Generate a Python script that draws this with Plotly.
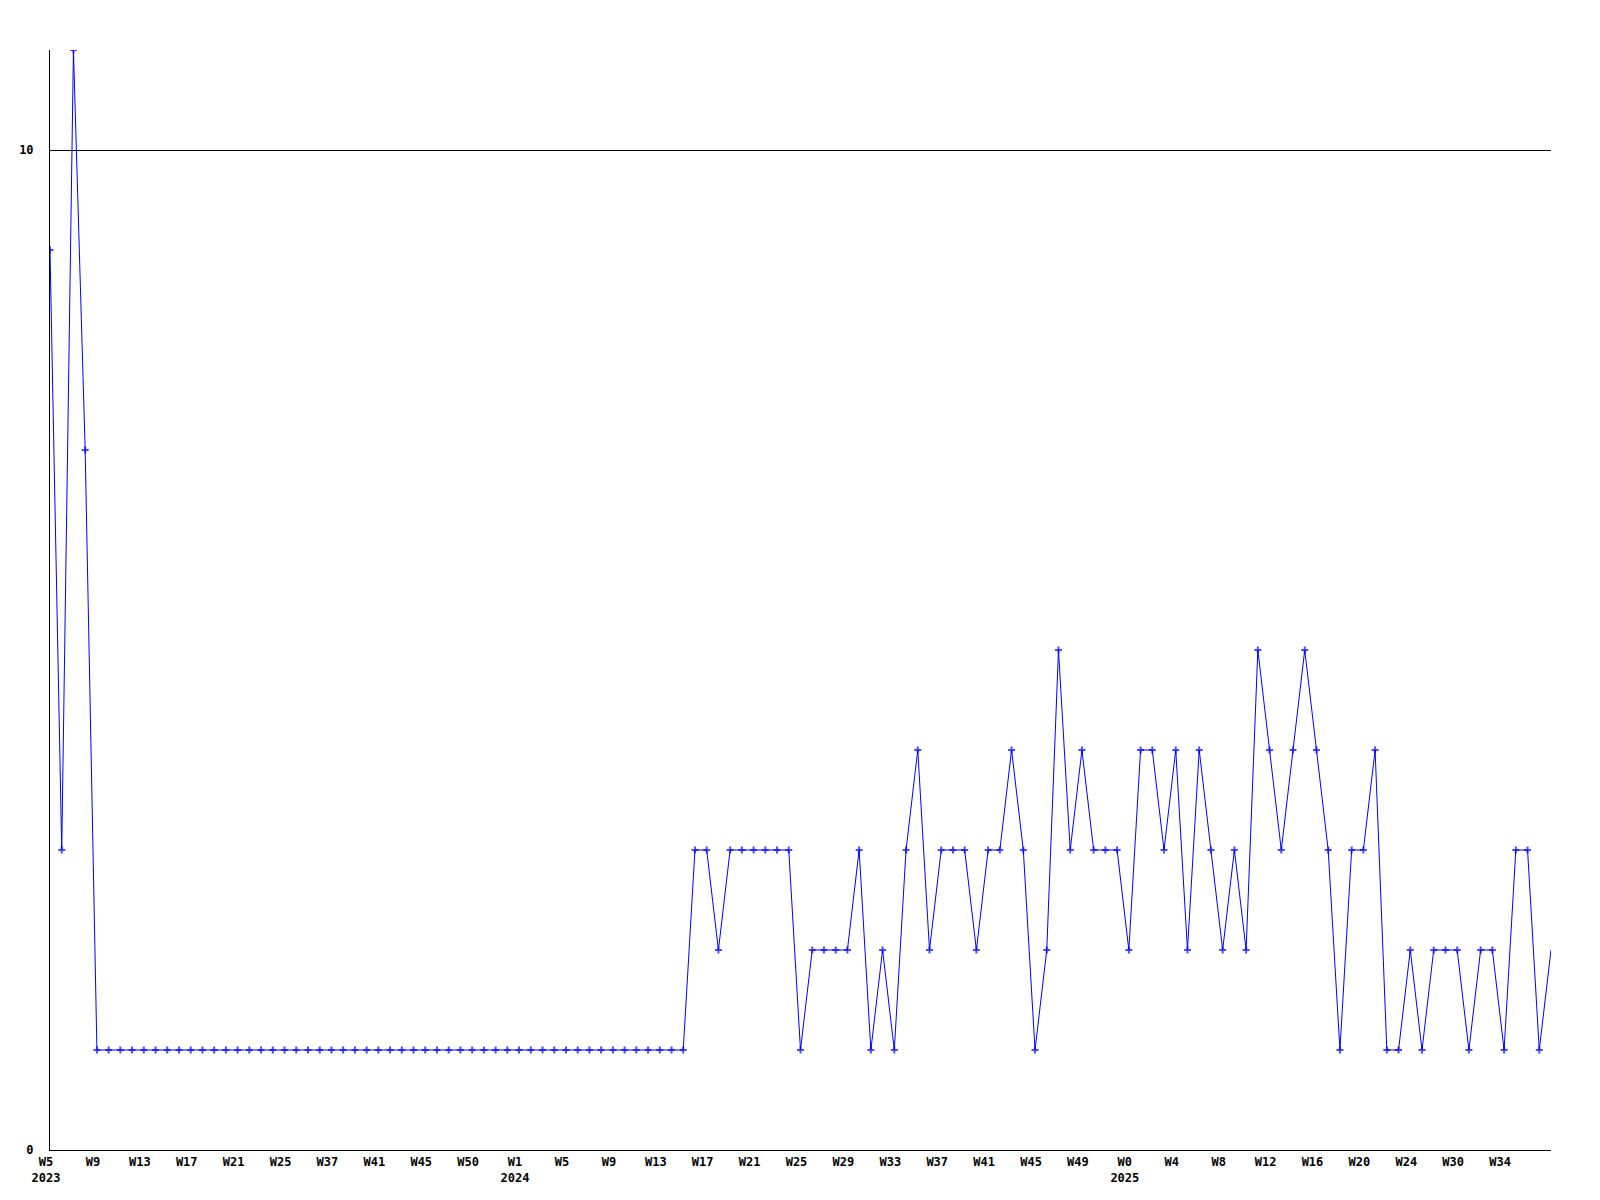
import plotly.graph_objects as go

# weekly counts, one value per week shown on the chart
counts = [9, 3, 11, 7] + [1] * 51 + [
    3, 3, 2, 3, 3, 3, 3, 3, 3, 1, 2, 2, 2, 2, 3, 1, 2, 1, 3, 4,
    2, 3, 3, 3, 2, 3, 3, 4, 3, 1, 2, 5, 3, 4, 3, 3, 3, 2, 4, 4,
    3, 4, 2, 4, 3, 2, 3, 2, 5, 4, 3, 4, 5, 4, 3, 1, 3, 3, 4, 1,
    1, 2, 1, 2, 2, 2, 1, 2, 2, 1, 3, 3, 1, 2,
]
weeks = list(range(len(counts)))

# every 4th week is labelled
tick_labels = [
    "W5<br>2023", "W9", "W13", "W17", "W21", "W25", "W37", "W41", "W45", "W50",
    "W1<br>2024", "W5", "W9", "W13", "W17", "W21", "W25", "W29", "W33", "W37",
    "W41", "W45", "W49", "W0<br>2025", "W4", "W8", "W12", "W16", "W20", "W24",
    "W30", "W34",
]
tick_pos = weeks[::4][:len(tick_labels)]

# the current (last) week is drawn without a marker
sizes = [5] * (len(counts) - 1) + [0]

fig = go.Figure()
fig.add_trace(go.Scatter(
    x=weeks, y=counts, mode="lines+markers",
    line=dict(color="#0000ff", width=1),
    marker=dict(symbol="cross-thin", size=sizes, color="#0000ff",
                line=dict(color="#0000ff", width=2)),
    showlegend=False, hoverinfo="y",
))

bold = dict(family="DejaVu Sans Mono", size=12, weight="bold", color="black")

fig.update_layout(
    width=1600, height=1200,
    margin=dict(l=42, r=57, t=42, b=58),
    plot_bgcolor="white", paper_bgcolor="white",
    font=dict(family="DejaVu Sans Mono", size=12, color="black"),
    xaxis=dict(
        range=[0, len(counts) - 1], showgrid=False, zeroline=False,
        showline=True, linecolor="black", linewidth=1, automargin=False,
        tickmode="array", tickvals=tick_pos, ticktext=tick_labels,
        ticks="", ticklabelshift=-4, ticklabelstandoff=1,
        tickfont=bold,
    ),
    yaxis=dict(
        range=[0, 11], showgrid=True, gridcolor="black", gridwidth=1,
        zeroline=False, showline=True, linecolor="black", linewidth=1,
        automargin=False,
        tickmode="array", tickvals=[0, 10], ticktext=["0", "10"],
        ticks="", ticklabelstandoff=13,
        tickfont=bold,
    ),
)

fig.write_html("out.html")
